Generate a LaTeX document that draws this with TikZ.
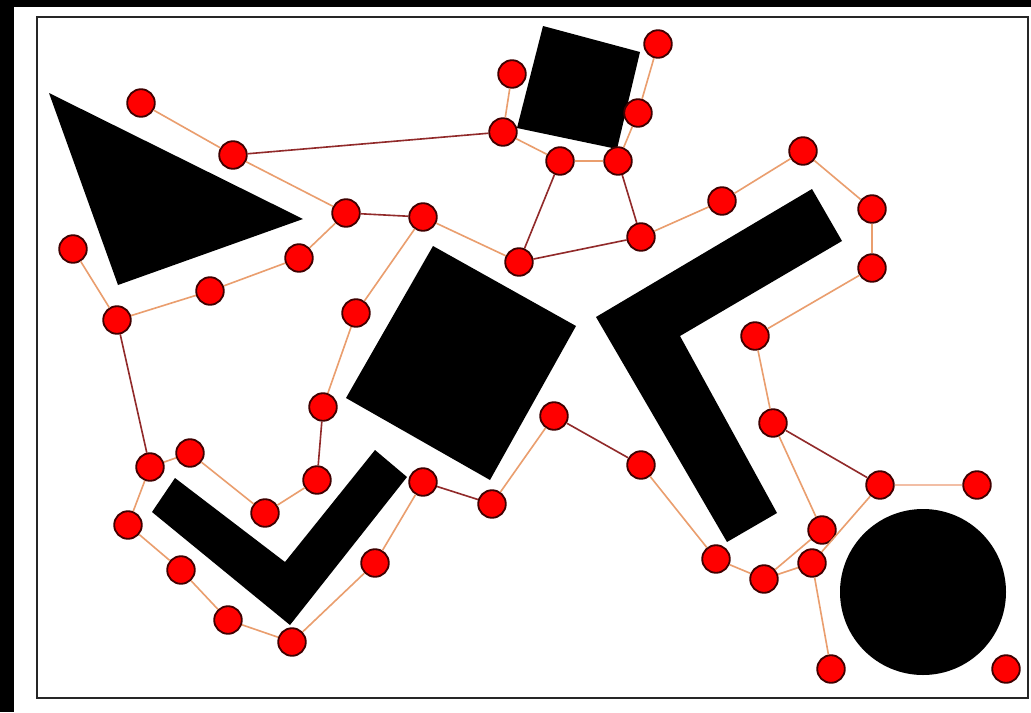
\documentclass[tikz,border=0pt]{standalone}
\begin{document}
\begin{tikzpicture}[x=0.05cm,y=-0.05cm,
  dot/.style={circle,fill=red,draw=black!75!red,line width=2.6pt,minimum size=1.38cm,inner sep=0pt},
  lite/.style={draw={rgb,255:red,234;green,158;blue,110},line width=2.3pt},
  dark/.style={draw={rgb,255:red,145;green,42;blue,42},line width=2.3pt},
  wide/.style={draw={rgb,255:red,242;green,190;blue,165},line width=4pt},
  obstacle/.style={fill=black}]
% canvas and frame
\fill[black] (0,0) rectangle (1031,712);
\fill[white] (14,7) rectangle (1031,712);
\draw[black!85,line width=3pt] (37,17) rectangle (1028,698);
\useasboundingbox (0,0) rectangle (1031,712);
% obstacles
\fill[obstacle] (49,93) -- (303,219) -- (118,285) -- cycle;
\fill[obstacle] (543,26) -- (640,52) -- (617,149) -- (517,128) -- cycle;
\fill[obstacle] (433,246) -- (576,326) -- (490,480) -- (346,398) -- cycle;
\fill[obstacle] (596,317) -- (812,189) -- (842,241) -- (680,336) -- (777,513) -- (727,542) -- cycle;
\fill[obstacle] (175,478) -- (285,562) -- (375,450) -- (407,477) -- (290,625) -- (152,512) -- cycle;
\fill[obstacle] (923,592) circle (83);
% roadmap vertices
\node[dot] (n1) at (141,103) {};
\node[dot] (n2) at (233,155) {};
\node[dot] (n3) at (346,213) {};
\node[dot] (n4) at (423,217) {};
\node[dot] (n5) at (503,132) {};
\node[dot] (n6) at (512,74) {};
\node[dot] (n7) at (560,161) {};
\node[dot] (n8) at (618,161) {};
\node[dot] (n9) at (638,113) {};
\node[dot] (n10) at (658,44) {};
\node[dot] (n11) at (519,262) {};
\node[dot] (n12) at (641,237) {};
\node[dot] (n13) at (722,201) {};
\node[dot] (n14) at (803,151) {};
\node[dot] (n15) at (872,209) {};
\node[dot] (n16) at (872,268) {};
\node[dot] (n17) at (755,336) {};
\node[dot] (n18) at (773,423) {};
\node[dot] (n19) at (880,485) {};
\node[dot] (n20) at (977,485) {};
\node[dot] (n21) at (822,530) {};
\node[dot] (n22) at (812,563) {};
\node[dot] (n23) at (764,579) {};
\node[dot] (n24) at (716,559) {};
\node[dot] (n25) at (641,465) {};
\node[dot] (n26) at (554,416) {};
\node[dot] (n27) at (492,504) {};
\node[dot] (n28) at (423,482) {};
\node[dot] (n29) at (375,563) {};
\node[dot] (n30) at (292,642) {};
\node[dot] (n31) at (228,620) {};
\node[dot] (n32) at (181,570) {};
\node[dot] (n33) at (128,525) {};
\node[dot] (n34) at (150,467) {};
\node[dot] (n35) at (190,453) {};
\node[dot] (n36) at (265,513) {};
\node[dot] (n37) at (317,480) {};
\node[dot] (n38) at (323,407) {};
\node[dot] (n39) at (356,313) {};
\node[dot] (n40) at (299,258) {};
\node[dot] (n41) at (210,291) {};
\node[dot] (n42) at (117,320) {};
\node[dot] (n43) at (73,249) {};
\node[dot] (n44) at (831,669) {};
\node[dot] (n45) at (1006,669) {};
% roadmap edges
\path[lite] (n1) -- (n2);
\path[dark] (n2) -- (n5);
\path[lite] (n2) -- (n3);
\path[dark] (n3) -- (n4);
\path[lite] (n3) -- (n40);
\path[lite] (n40) -- (n41);
\path[lite] (n41) -- (n42);
\path[lite] (n42) -- (n43);
\path[dark] (n42) -- (n34);
\path[lite] (n4) -- (n39);
\path[lite] (n39) -- (n38);
\path[dark] (n38) -- (n37);
\path[lite] (n37) -- (n36);
\path[lite] (n36) -- (n35);
\path[lite] (n35) -- (n34);
\path[lite] (n34) -- (n33);
\path[lite] (n33) -- (n32);
\path[lite] (n32) -- (n31);
\path[lite] (n31) -- (n30);
\path[lite] (n30) -- (n29);
\path[lite] (n29) -- (n28);
\path[dark] (n28) -- (n27);
\path[lite] (n27) -- (n26);
\path[dark] (n26) -- (n25);
\path[lite] (n25) -- (n24);
\path[lite] (n24) -- (n23);
\path[lite] (n23) -- (n22);
\path[lite] (n23) -- (n21);
\path[lite] (n22) -- (n19);
\path[lite] (n22) -- (n44);
\path[lite] (n21) -- (n18);
\path[dark] (n18) -- (n19);
\path[wide] (n19) -- (n20);
\path[lite] (n4) -- (n11);
\path[dark] (n11) -- (n7);
\path[dark] (n11) -- (n12);
\path[dark] (n12) -- (n8);
\path[lite] (n12) -- (n13);
\path[lite] (n13) -- (n14);
\path[lite] (n14) -- (n15);
\path[lite] (n15) -- (n16);
\path[lite] (n16) -- (n17);
\path[lite] (n17) -- (n18);
\path[lite] (n5) -- (n6);
\path[lite] (n5) -- (n7);
\path[lite] (n7) -- (n8);
\path[lite] (n8) -- (n9);
\path[lite] (n9) -- (n10);
\end{tikzpicture}
\end{document}
